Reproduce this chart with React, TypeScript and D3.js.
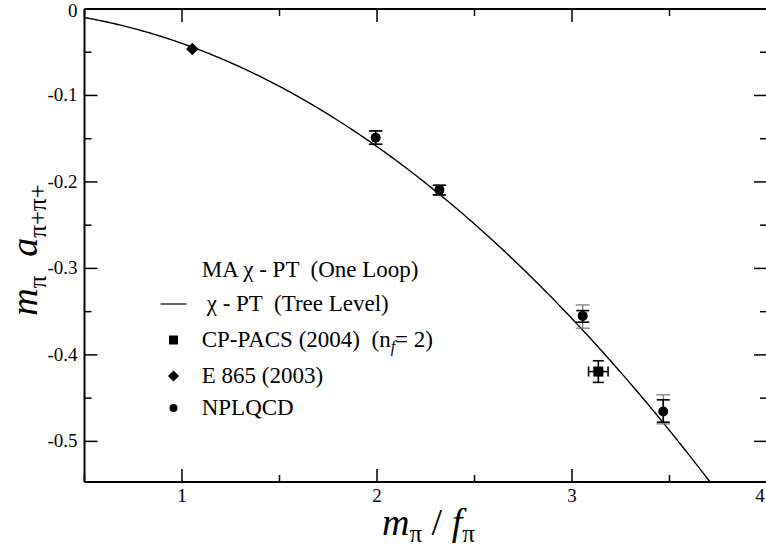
import React from "react";
import * as d3 from "d3";

const W = 766;
const H = 552;

// Axis ticks
const xMajorTicks = [1, 2, 3, 4];
const xMinorTicks = [0.5, 1.5, 2.5, 3.5];
const xTickLabels = ["1", "2", "3", "4"];
const yMajorTicks = [0, -0.1, -0.2, -0.3, -0.4, -0.5];
const yMinorTicks = [-0.05, -0.15, -0.25, -0.35, -0.45];
const yTickLabels = ["0", "-0.1", "-0.2", "-0.3", "-0.4", "-0.5"];

// NPLQCD lattice points: value, statistical and total (stat+sys) errors
const nplX = [1.993, 2.32, 3.055, 3.468];
const nplY = [-0.1488, -0.2092, -0.3549, -0.4655];
const nplStatUp = [0.0078, 0.0054, 0.0061, 0.0135];
const nplStatDown = [0.0076, 0.0058, 0.0073, 0.0123];
const nplTotUp = [0.0078, 0.0054, 0.0127, 0.0193];
const nplTotDown = [0.0076, 0.0058, 0.0142, 0.0143];

// CP-PACS (2004), n_f = 2
const cpX = [3.135];
const cpY = [-0.4193];
const cpXErr = [0.05];
const cpYErr = [0.0125];

// E 865 (2003)
const e865X = [1.053];
const e865Y = [-0.0462];

const xDomain = [0.5, 4];
const yDomain = [-0.547, 0];

// Tree-level chiral prediction m_pi a = -(m_pi/f_pi)^2 / (8 pi)
const treeLevel = (r: number) => -(r * r) / (8 * Math.PI);

const FONT = "Liberation Serif";

export default function App() {
  const x = d3.scaleLinear().domain(xDomain).range([84.5, 767]);
  const y = d3.scaleLinear().domain(yDomain).range([482, 9]);
  const left = x(xDomain[0]);
  const right = x(xDomain[1]);
  const top = y(yDomain[1]);
  const bottom = y(yDomain[0]);

  const curvePts = d3.range(0.5, 4.0001, 0.01).map((r) => [r, treeLevel(r)] as [number, number]);
  const line = d3
    .line<[number, number]>()
    .x((d) => x(d[0]))
    .y((d) => y(d[1]));

  const majorLen = 13;
  const minorLen = 7;

  const errBar = (cx: number, yHi: number, yLo: number, capW: number, key: string, color = "#000", width = 1.6) => (
    <g key={key} stroke={color} strokeWidth={width}>
      <line x1={cx} x2={cx} y1={y(yHi)} y2={y(yLo)} />
      <line x1={cx - capW / 2} x2={cx + capW / 2} y1={y(yHi)} y2={y(yHi)} />
      <line x1={cx - capW / 2} x2={cx + capW / 2} y1={y(yLo)} y2={y(yLo)} />
    </g>
  );

  const legendX = 201.7;
  const legendRows = [270, 304, 340, 376, 408];
  const symX = 173.5;
  const legendSize = 23;

  return (
    <svg width={W} height={H} style={{ position: "absolute", left: 0, top: 0, background: "#fff" }}>
      <defs>
        <clipPath id="plotClip">
          <rect x={left} y={top} width={right - left} height={bottom - top} />
        </clipPath>
      </defs>

      {/* tree-level curve */}
      <path
        d={line(curvePts) || ""}
        fill="none"
        stroke="#000"
        strokeWidth={1.4}
        clipPath="url(#plotClip)"
      />

      {/* frame */}
      <g stroke="#000" strokeWidth={2} fill="none">
        <line x1={left} x2={right} y1={top} y2={top} />
        <line x1={left} x2={right} y1={bottom} y2={bottom} />
        <line x1={left} x2={left} y1={top} y2={bottom} />
        <line x1={right} x2={right} y1={top} y2={bottom} />
      </g>

      {/* ticks on all four sides, pointing inward */}
      <g stroke="#000" strokeWidth={1.5}>
        {xMajorTicks.map((t) => (
          <g key={"xM" + t}>
            <line x1={x(t)} x2={x(t)} y1={bottom} y2={bottom - majorLen} />
            <line x1={x(t)} x2={x(t)} y1={top} y2={top + majorLen} />
          </g>
        ))}
        {xMinorTicks.map((t) => (
          <g key={"xm" + t}>
            <line x1={x(t)} x2={x(t)} y1={bottom} y2={bottom - minorLen} />
            <line x1={x(t)} x2={x(t)} y1={top} y2={top + minorLen} />
          </g>
        ))}
        {yMajorTicks.map((t) => (
          <g key={"yM" + t}>
            <line x1={left} x2={left + majorLen} y1={y(t)} y2={y(t)} />
            <line x1={right} x2={right - majorLen} y1={y(t)} y2={y(t)} />
          </g>
        ))}
        {yMinorTicks.map((t) => (
          <g key={"ym" + t}>
            <line x1={left} x2={left + minorLen} y1={y(t)} y2={y(t)} />
            <line x1={right} x2={right - minorLen} y1={y(t)} y2={y(t)} />
          </g>
        ))}
      </g>

      {/* tick labels */}
      {yMajorTicks.map((t, i) => (
        <text
          key={"yl" + t}
          x={left - 7}
          y={Math.max(y(t) + 6, 17)}
          textAnchor="end"
          fontFamily={FONT}
          fontSize={19}
          fill="#000"
        >
          {yTickLabels[i]}
        </text>
      ))}
      {xMajorTicks.map((t, i) => (
        <text
          key={"xl" + t}
          x={Math.min(x(t), W - 6)}
          y={bottom + 20}
          textAnchor="middle"
          fontFamily={FONT}
          fontSize={19}
          fill="#000"
        >
          {xTickLabels[i]}
        </text>
      ))}

      {/* NPLQCD: total error (grey) behind statistical error */}
      {nplX.map((v, i) =>
        errBar(x(v), nplY[i] + nplTotUp[i], nplY[i] - nplTotDown[i], 14, "nt" + i, "#777", 1.2)
      )}
      {nplX.map((v, i) =>
        errBar(x(v), nplY[i] + nplStatUp[i], nplY[i] - nplStatDown[i], 13, "ns" + i)
      )}
      {nplX.map((v, i) => (
        <circle key={"np" + i} cx={x(v)} cy={y(nplY[i])} r={5} fill="#000" />
      ))}

      {/* CP-PACS */}
      {cpX.map((v, i) => (
        <g key={"cp" + i} stroke="#000" strokeWidth={1.6}>
          {errBar(x(v), cpY[i] + cpYErr[i], cpY[i] - cpYErr[i], 11, "cpy" + i)}
          <line x1={x(v - cpXErr[i])} x2={x(v + cpXErr[i])} y1={y(cpY[i])} y2={y(cpY[i])} />
          <line x1={x(v - cpXErr[i])} x2={x(v - cpXErr[i])} y1={y(cpY[i]) - 5} y2={y(cpY[i]) + 5} />
          <line x1={x(v + cpXErr[i])} x2={x(v + cpXErr[i])} y1={y(cpY[i]) - 5} y2={y(cpY[i]) + 5} />
          <rect x={x(v) - 5} y={y(cpY[i]) - 5} width={10} height={10} fill="#000" stroke="none" />
        </g>
      ))}

      {/* E 865 */}
      {e865X.map((v, i) => (
        <path
          key={"e8" + i}
          d={d3.symbol(d3.symbolDiamond2, 100)() || ""}
          transform={`translate(${x(v)},${y(e865Y[i])})`}
          fill="#000"
        />
      ))}

      {/* legend */}
      <g fill="#000">
        <text x={legendX} y={legendRows[0] + 7} fontFamily={FONT} fontSize={legendSize} xmlSpace="preserve">
          {"MA χ - PT  (One Loop)"}
        </text>
        <line x1={symX - 13} x2={symX + 13} y1={legendRows[1]} y2={legendRows[1]} stroke="#000" strokeWidth={1.2} />
        <text x={legendX + 5} y={legendRows[1] + 7} fontFamily={FONT} fontSize={legendSize} xmlSpace="preserve">
          {"χ - PT  (Tree Level)"}
        </text>
        <rect x={symX - 4.5} y={legendRows[2] - 4.5} width={9} height={9} fill="#000" />
        <text x={legendX} y={legendRows[2] + 7} fontFamily={FONT} fontSize={legendSize} xmlSpace="preserve">
          {"CP-PACS (2004)  (n"}
          <tspan fontStyle="italic" fontSize={16} dy={5}>f</tspan>
          <tspan dy={-5}>{"= 2)"}</tspan>
        </text>
        <path
          d={d3.symbol(d3.symbolDiamond2, 80)() || ""}
          transform={`translate(${symX},${legendRows[3]})`}
          fill="#000"
        />
        <text x={legendX} y={legendRows[3] + 7} fontFamily={FONT} fontSize={legendSize} xmlSpace="preserve">
          {"E 865 (2003)"}
        </text>
        <circle cx={symX} cy={legendRows[4]} r={4} fill="#000" />
        <text x={legendX} y={legendRows[4] + 7} fontFamily={FONT} fontSize={legendSize}>
          NPLQCD
        </text>
      </g>

      {/* axis titles */}
      <text x={382} y={535} fontFamily={FONT} fontSize={38} fill="#000" xmlSpace="preserve">
        <tspan fontStyle="italic">m</tspan>
        <tspan fontSize={25} dy={7}>π</tspan>
        <tspan dy={-7}>{" / "}</tspan>
        <tspan fontStyle="italic">f</tspan>
        <tspan fontSize={25} dy={7}>π</tspan>
      </text>
      <text
        transform="translate(37,250) rotate(-90)"
        textAnchor="middle"
        fontFamily={FONT}
        fontSize={38}
        fill="#000"
        xmlSpace="preserve"
      >
        <tspan fontStyle="italic">m</tspan>
        <tspan fontSize={25} dy={9}>π</tspan>
        <tspan dy={-9}>{"  "}</tspan>
        <tspan fontStyle="italic">a</tspan>
        <tspan fontSize={25} dy={9}>π+π+</tspan>
      </text>
    </svg>
  );
}
